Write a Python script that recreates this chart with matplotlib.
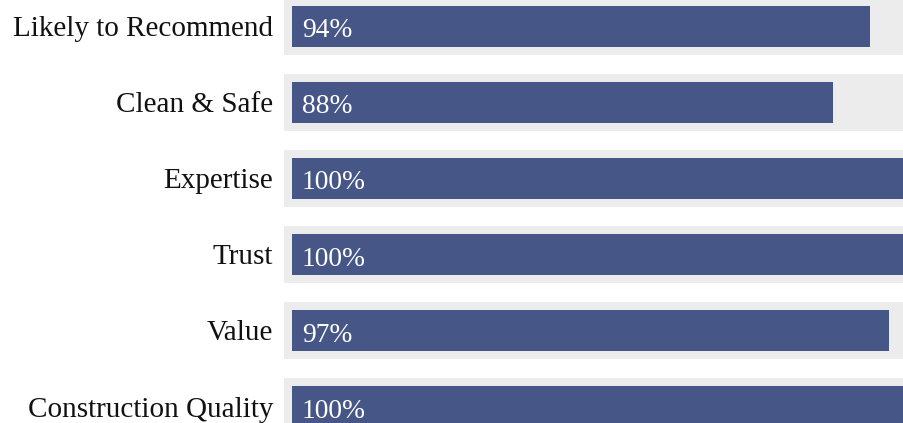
import matplotlib
matplotlib.use("Agg")
import matplotlib.pyplot as plt

categories = ["Likely to Recommend", "Clean & Safe", "Expertise", "Trust", "Value", "Construction Quality"]
values = [94, 88, 100, 100, 97, 100]
value_labels = ["94%", "88%", "100%", "100%", "97%", "100%"]

W, H = 904, 423
fig = plt.figure(figsize=(W / 100, H / 100), dpi=100)
ax = fig.add_axes([0, 0, 1, 1])

px_per_pct = 6.15
x0_px = 292
row_px = 76
c0_px = 26.5

ax.set_xlim(-x0_px / px_per_pct, (W - x0_px) / px_per_pct)
ax.set_ylim((H - c0_px) / row_px, -c0_px / row_px)
ax.axis("off")

ys = list(range(len(categories)))
grey_start = -8 / px_per_pct
ax.barh(ys, [200] * len(ys), left=grey_start, height=57 / row_px, color="#ececec", linewidth=0)
ax.barh(ys, values, left=0, height=41 / row_px, color="#465787", linewidth=0)

font = "Liberation Serif"
for y, cat, lab in zip(ys, categories, value_labels):
    ax.text(-19 / px_per_pct, y + 10 / row_px, cat, ha="right", va="baseline",
            fontsize=21, family=font, color="#111111")
    ax.text(10 / px_per_pct, y + 11 / row_px, lab, ha="left", va="baseline",
            fontsize=19.8, family=font, color="white")

fig.savefig("out.png", dpi=100)
